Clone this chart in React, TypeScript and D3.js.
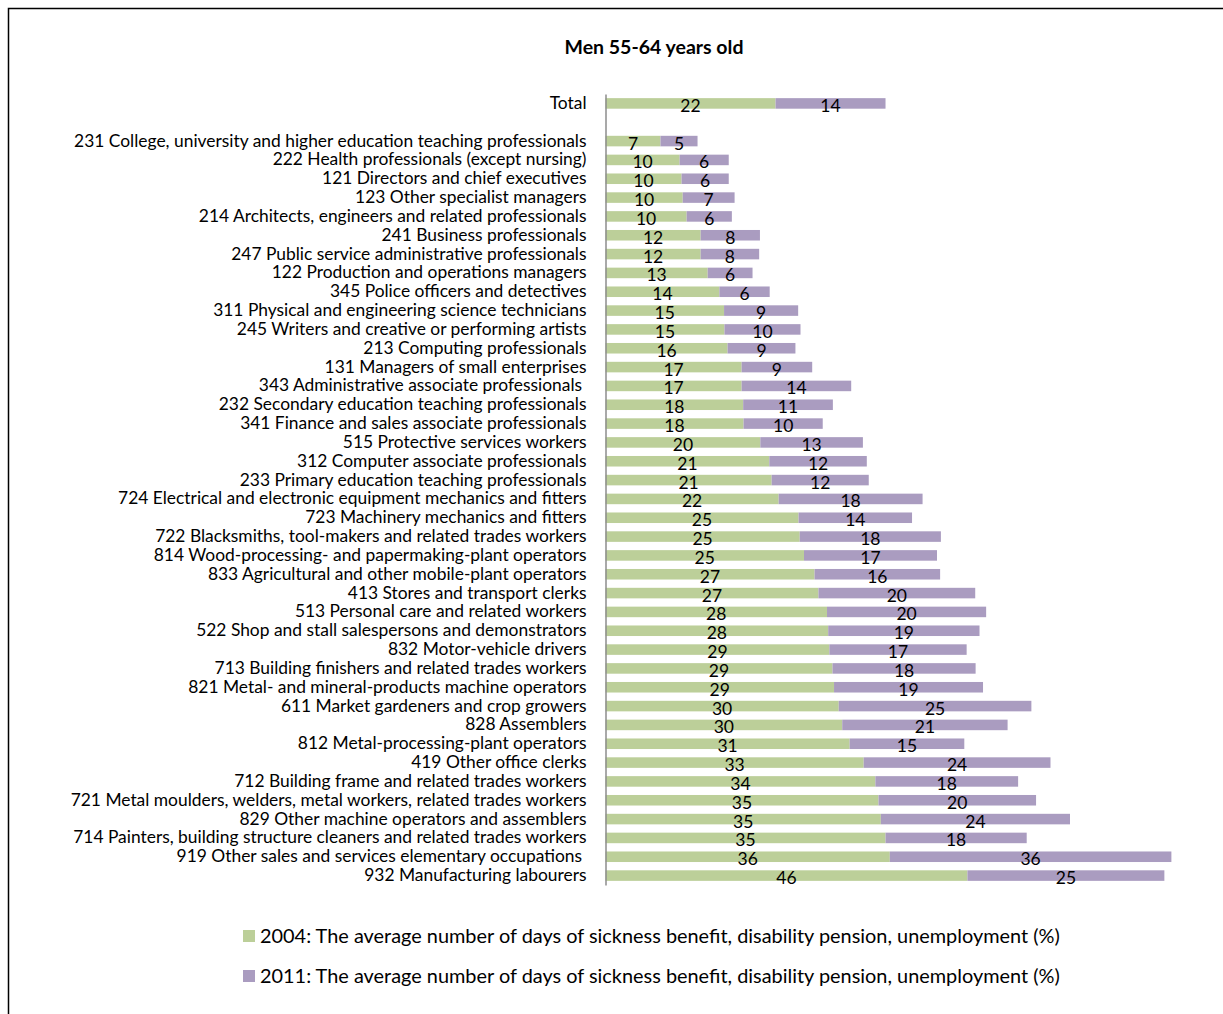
import React, { useEffect, useRef } from 'react';
import * as d3 from 'd3';

const WIDTH = 1223;
const HEIGHT = 1014;

const FONT = 'Lato, "Open Sans", sans-serif';
const GREEN = '#bccf99';
const PURPLE = '#aa9cc0';

const occupations = [
  'Total',
  '231 College, university and higher education teaching professionals',
  '222 Health professionals (except nursing)',
  '121 Directors and chief executives',
  '123 Other specialist managers',
  '214 Architects, engineers and related professionals',
  '241 Business professionals',
  '247 Public service administrative professionals',
  '122 Production and operations managers',
  '345 Police officers and detectives',
  '311 Physical and engineering science technicians',
  '245 Writers and creative or performing artists',
  '213 Computing professionals',
  '131 Managers of small enterprises',
  '343 Administrative associate professionals ',
  '232 Secondary education teaching professionals',
  '341 Finance and sales associate professionals',
  '515 Protective services workers',
  '312 Computer associate professionals',
  '233 Primary education teaching professionals',
  '724 Electrical and electronic equipment mechanics and fitters',
  '723 Machinery mechanics and fitters',
  '722 Blacksmiths, tool-makers and related trades workers',
  '814 Wood-processing- and papermaking-plant operators',
  '833 Agricultural and other mobile-plant operators',
  '413 Stores and transport clerks',
  '513 Personal care and related workers',
  '522 Shop and stall salespersons and demonstrators',
  '832 Motor-vehicle drivers',
  '713 Building finishers and related trades workers',
  '821 Metal- and mineral-products machine operators',
  '611 Market gardeners and crop growers',
  '828 Assemblers',
  '812 Metal-processing-plant operators',
  '419 Other office clerks',
  '712 Building frame and related trades workers',
  '721 Metal moulders, welders, metal workers, related trades workers',
  '829 Other machine operators and assemblers',
  '714 Painters, building structure cleaners and related trades workers',
  '919 Other sales and services elementary occupations ',
  '932 Manufacturing labourers',
];

// bar lengths
const values2004 = [
  21.8, 7.05, 9.5, 9.75, 9.9, 10.4, 12.2, 12.2, 13.1, 14.6, 15.2, 15.25, 15.65, 17.45, 17.45,
  17.65, 17.7, 19.85, 21.0, 21.3, 22.2, 24.75, 24.9, 25.45, 26.8, 27.3, 28.4, 28.55, 28.7, 29.1,
  29.3, 29.9, 30.35, 31.3, 33.1, 34.6, 35.0, 35.3, 35.9, 36.45, 46.4,
];
const values2011 = [
  14.1, 4.75, 6.3, 6.05, 6.65, 5.8, 7.6, 7.5, 5.75, 6.45, 9.5, 9.75, 8.7, 9.05, 14.05,
  11.5, 10.15, 13.15, 12.5, 12.45, 18.45, 14.55, 18.1, 17.05, 16.1, 20.1, 20.4, 19.4, 17.6, 18.35,
  19.1, 24.7, 21.2, 14.7, 23.95, 18.3, 20.2, 24.25, 18.1, 36.1, 25.25,
];

// printed data labels
const labels2004 = [
  22, 7, 10, 10, 10, 10, 12, 12, 13, 14, 15, 15, 16, 17, 17, 18, 18, 20, 21, 21, 22,
  25, 25, 25, 27, 27, 28, 28, 29, 29, 29, 30, 30, 31, 33, 34, 35, 35, 35, 36, 46,
];
const labels2011 = [
  14, 5, 6, 6, 7, 6, 8, 8, 6, 6, 9, 10, 9, 9, 14, 11, 10, 13, 12, 12, 18,
  14, 18, 17, 16, 20, 20, 19, 17, 18, 19, 25, 21, 15, 24, 18, 20, 24, 18, 36, 25,
];

const seriesNames = [
  '2004: The average number of days of sickness benefit, disability pension, unemployment (%)',
  '2011: The average number of days of sickness benefit, disability pension, unemployment (%)',
];

const App: React.FC = () => {
  const svgRef = useRef<SVGSVGElement>(null);

  useEffect(() => {
    const svg = d3.select(svgRef.current);
    svg.selectAll('*').remove();

    const rows = occupations.map((name, i) => ({
      name,
      v1: values2004[i],
      v2: values2011[i],
      l1: labels2004[i],
      l2: labels2011[i],
    }));

    // blank category between Total and the occupations
    const domain = [occupations[0], ' ', ...occupations.slice(1)];

    const axisX = 605.5;
    const x = d3.scaleLinear().domain([0, 75]).range([axisX, axisX + 75 * 7.8]);
    const y = d3.scaleBand<string>().domain(domain).range([94, 885]).paddingInner(0.44).paddingOuter(0.22);

    // frame
    svg.append('path')
      .attr('d', `M8.5,${HEIGHT + 10}V8.5H${WIDTH + 10}`)
      .attr('fill', 'none')
      .attr('stroke', '#000')
      .attr('stroke-width', 1.5);

    // title
    svg.append('text')
      .attr('x', 654)
      .attr('y', 54)
      .attr('text-anchor', 'middle')
      .attr('font-family', FONT)
      .attr('font-size', '19.5px')
      .attr('font-weight', 'bold')
      .text('Men 55-64 years old');

    // bars
    const g = svg.append('g');
    const bar = g.selectAll('.row').data(rows).enter().append('g').attr('class', 'row');

    bar.append('rect')
      .attr('x', x(0))
      .attr('y', d => y(d.name)!)
      .attr('width', d => x(d.v1) - x(0))
      .attr('height', y.bandwidth())
      .attr('fill', GREEN);

    bar.append('rect')
      .attr('x', d => x(d.v1))
      .attr('y', d => y(d.name)!)
      .attr('width', d => x(d.v1 + d.v2) - x(d.v1))
      .attr('height', y.bandwidth())
      .attr('fill', PURPLE);

    bar.append('text')
      .attr('x', d => (x(0) + x(d.v1)) / 2)
      .attr('y', d => y(d.name)! + y.bandwidth() / 2 + 8.5)
      .attr('text-anchor', 'middle')
      .attr('font-family', FONT)
      .attr('font-size', '17.5px')
      .attr('fill', '#000')
      .text(d => d.l1);

    bar.append('text')
      .attr('x', d => (x(d.v1) + x(d.v1 + d.v2)) / 2)
      .attr('y', d => y(d.name)! + y.bandwidth() / 2 + 8.5)
      .attr('text-anchor', 'middle')
      .attr('font-family', FONT)
      .attr('font-size', '17.5px')
      .attr('fill', '#000')
      .text(d => d.l2);

    // category axis
    svg.append('g')
      .attr('transform', `translate(${axisX},0)`)
      .call(d3.axisLeft(y).tickSize(0).tickPadding(19).tickFormat(d => d))
      .call(a => a.select('.domain').attr('stroke', '#8c8c8c').attr('stroke-width', 1.5))
      .call(a => a.selectAll('.tick text')
        .attr('font-family', FONT)
        .attr('font-size', '17.4px')
        .attr('fill', '#000')
        .style('white-space', 'pre'));

    // legend
    const legend = svg.append('g');
    seriesNames.forEach((name, i) => {
      const cy = 936 + i * 40;
      legend.append('rect')
        .attr('x', 243)
        .attr('y', cy - 6)
        .attr('width', 12)
        .attr('height', 12)
        .attr('fill', i === 0 ? GREEN : PURPLE);
      legend.append('text')
        .attr('x', 260)
        .attr('y', cy)
        .attr('dy', '0.36em')
        .attr('font-family', FONT)
        .attr('font-size', '19.9px')
        .attr('fill', '#000')
        .text(name);
    });
  }, []);

  return (
    <svg
      ref={svgRef}
      width={WIDTH}
      height={HEIGHT}
      style={{ position: 'absolute', left: 0, top: 0, display: 'block', background: '#fff' }}
    />
  );
};

export default App;
